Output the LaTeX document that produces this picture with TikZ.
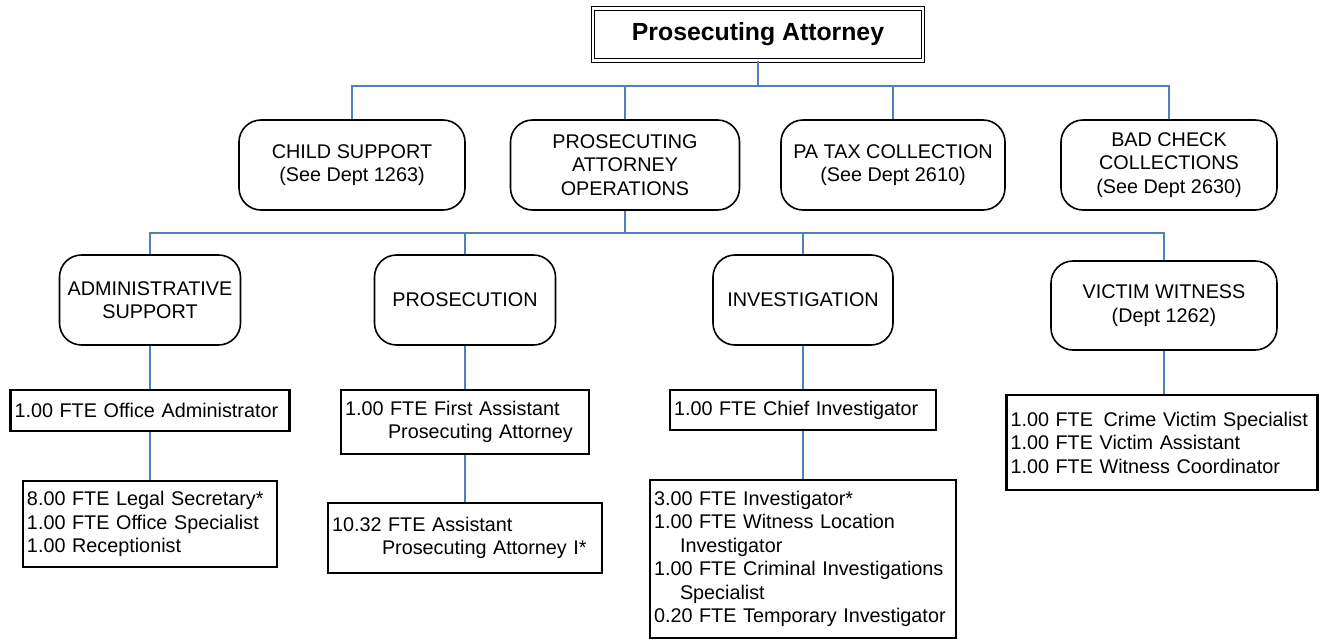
\documentclass[tikz,border=0pt]{standalone}
\usepackage{fontspec}
\setmainfont{Liberation Sans}
\begin{document}
\begin{tikzpicture}[x=1pt,y=-1pt,
  conn/.style={line width=1.4pt, color={rgb,255:red,79;green,129;blue,189}},
  unit/.style={draw=black, line width=1.6pt, rounded corners=22pt, align=center, inner sep=2pt,
    font=\fontsize{19.8}{23.5}\selectfont},
  fte/.style={draw=black, line width=2.6pt, align=left, inner xsep=4pt, inner ysep=0pt,
    font=\fontsize{19.8}{23.5}\selectfont},
]
\useasboundingbox (0,0) rectangle (1322,640);

% title
\node[draw=black, line width=1.3pt, double, double distance=2.2pt, minimum width=330, minimum height=52,
      font=\fontsize{24.8}{28}\selectfont\bfseries] (pa) at (758,34.5) {\raisebox{6pt}{Prosecuting Attorney}};

% first level
\node[unit, minimum width=226, minimum height=90] (cs) at (352,165) {CHILD SUPPORT\\(See Dept 1263)};
\node[unit, minimum width=229, minimum height=90] (ops) at (625,165) {PROSECUTING\\ATTORNEY\\OPERATIONS};
\node[unit, minimum width=224, minimum height=90] (tax) at (893,165) {PA TAX COLLECTION\\(See Dept 2610)};
\node[unit, minimum width=216, minimum height=90] (bc) at (1169,165) {BAD CHECK\\COLLECTIONS\\(See Dept 2630)};

% second level
\node[unit, minimum width=181, minimum height=90] (adm) at (150,300) {ADMINISTRATIVE\\SUPPORT};
\node[unit, minimum width=181, minimum height=90] (pros) at (465,300) {PROSECUTION};
\node[unit, minimum width=180, minimum height=90] (inv) at (803,300) {INVESTIGATION};
\node[unit, minimum width=226, minimum height=89] (vw) at (1164,305.5) {VICTIM WITNESS\\(Dept 1262)};

% staff boxes
\node[fte, minimum width=279, minimum height=41, text width=271] (oa) at (150,410.5) {1.00 FTE Office Administrator};
\node[fte, minimum width=254, minimum height=86, text width=246] (ls) at (150,524) {8.00 FTE Legal Secretary*\\1.00 FTE Office Specialist\\1.00 Receptionist};
\node[fte, minimum width=248, minimum height=64, text width=240] (fa) at (465,422) {1.00 FTE First Assistant\\\hspace*{43pt}Prosecuting Attorney};
\node[fte, minimum width=274, minimum height=70, text width=266] (ap) at (465,538) {10.32 FTE Assistant\\\hspace*{50pt}Prosecuting Attorney I*};
\node[fte, minimum width=266, minimum height=40, text width=258] (ci) at (803,410) {1.00 FTE Chief Investigator};
\node[fte, minimum width=306, minimum height=158, text width=298] (iv) at (803,559) {3.00 FTE Investigator*\\1.00 FTE Witness Location\\\hspace*{26pt}Investigator\\1.00 FTE Criminal Investigations\\\hspace*{26pt}Specialist\\0.20 FTE Temporary Investigator};
\node[fte, minimum width=311, minimum height=95, text width=303] (vf) at (1162,442.5) {1.00 FTE\hspace{4pt} Crime Victim Specialist\\1.00 FTE Victim Assistant\\1.00 FTE Witness Coordinator};

% connectors level 1
\coordinate (h1) at (758,86);
\draw[conn] (pa.south) -- (h1);
\draw[conn] (cs.north) -- (cs.north |- h1) -- (bc.north |- h1) -- (bc.north);
\draw[conn] (ops.north) -- (ops.north |- h1);
\draw[conn] (tax.north) -- (tax.north |- h1);

% connectors level 2
\coordinate (h2) at (625,233);
\draw[conn] (ops.south) -- (h2);
\draw[conn] (adm.north) -- (adm.north |- h2) -- (vw.north |- h2) -- (vw.north);
\draw[conn] (pros.north) -- (pros.north |- h2);
\draw[conn] (inv.north) -- (inv.north |- h2);

% staff connectors
\draw[conn] (adm.south) -- (oa.north);
\draw[conn] (oa.south) -- (ls.north);
\draw[conn] (pros.south) -- (fa.north);
\draw[conn] (fa.south) -- (ap.north);
\draw[conn] (inv.south) -- (ci.north);
\draw[conn] (ci.south) -- (iv.north);
\draw[conn] (vw.south) -- (vw.south |- vf.north);
\end{tikzpicture}
\end{document}
